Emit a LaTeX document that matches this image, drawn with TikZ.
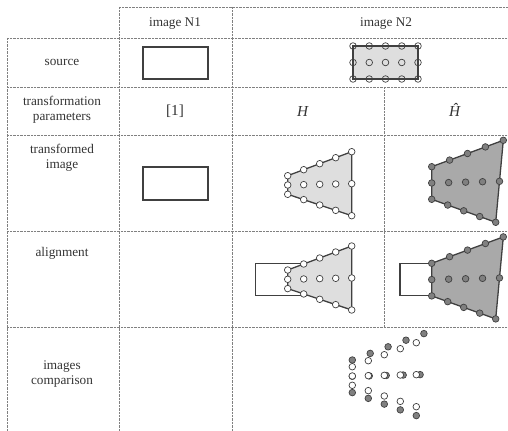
\documentclass[tikz,border=0pt]{standalone}
\usepackage{fontspec}
\setmainfont{Liberation Serif}
\usepackage{tikz}
\usepackage{xcolor}
\usetikzlibrary{positioning}

\definecolor{lightfill}{HTML}{DEDEDE}
\definecolor{darkfill}{HTML}{A9A9A9}
\definecolor{dotgrey}{HTML}{808080}
\definecolor{edge}{HTML}{404040}

\begin{document}
\begin{tikzpicture}[x=0.03cm, y=-0.03cm, font=\fontsize{11.3}{12.8}\selectfont,
    every node/.style={text=black!80},
    cellline/.style={gray, line width=0.6pt, dash pattern=on 0.6pt off 0.6pt},
    outline/.style={draw=edge, line width=1.1pt},
    wdot/.style={draw=edge, line width=0.6pt, fill=white},
    gdot/.style={draw=edge, line width=0.6pt, fill=dotgrey}]
            \useasboundingbox (0,0) rectangle (508,431);
            % table
            \draw[cellline] (119,7)--(508,7);
            \foreach \y in {38,87,135,231,327}
                \draw[cellline] (7,\y)--(508,\y);
            \draw[cellline] (7,38)--(7,431);
            \foreach \x in {119,232}
                \draw[cellline] (\x,7)--(\x,431);
            \draw[cellline] (384,87)--(384,327);
            \node (headA) at (175,24) {image N1};
            \node (headB) at (386,24) {image N2};
            \node (rowsrc) at (62,62) {source};
            \node[align=center] (rowpar) at (62,110) {transformation\\parameters};
            \node[align=center] (rowtr) at (62,158) {transformed\\image};
            \node (rowal) at (62,253) {alignment};
            \node[align=center] (rowcmp) at (62,374) {images\\comparison};
            \node[font=\fontsize{13}{15}\selectfont] (parA) at (175,111) {[1]};
            \node[font=\fontsize{13}{15}\selectfont] (parH) at (303,112) {\textit{H}};
            \node[font=\fontsize{13}{15}\selectfont] (parG) at (455,110) {\textit{Ĥ}};
            % image N1
            \draw[outline] (143,47) rectangle (208,79);
            \draw[outline] (143,167) rectangle (208,200);
            % image N2 source
            \filldraw[outline, fill=lightfill] (353,46) rectangle (418,79);
            \foreach \i in {0,...,4}
                \foreach \y in {46,62.5,79}
                    \draw[draw=edge, line width=0.6pt] ({353+16.25*\i},\y) circle[radius=3.3];
            % point grids
            \foreach \p/\ox/\oy in {t/287.7/175.7, a/287.7/270, c/352.3/366.7}
                \foreach \i in {0,...,4} {
                    \coordinate (H\p-\i-0) at ({\ox+16*\i},{\oy-6*\i});
                    \coordinate (H\p-\i-1) at ({\ox+16*\i},{\oy+9.3-0.33*\i});
                    \coordinate (H\p-\i-2) at ({\ox+16*\i},{\oy+18.6+5.35*\i});
                }
            \foreach \p/\ox/\oy in {t/431.7/166.7, a/431.7/263.3, c/352.3/360}
                \foreach \i in {0,...,4} {
                    \coordinate (G\p-\i-0) at ({\ox+17.9*\i},{\oy-6.6*\i});
                    \coordinate (G\p-\i-1) at ({\ox+16.95*\i},{\oy+16.3-0.42*\i});
                    \coordinate (G\p-\i-2) at ({\ox+16*\i},{\oy+32.6+5.75*\i});
                }
            % alignment
            \draw[outline] (255.7,263.3) rectangle (320.7,295.7);
            \draw[outline] (400,263.3) rectangle (465,295.7);
            \foreach \p in {t,a} {
                \filldraw[outline, fill=lightfill] (H\p-0-0)--(H\p-4-0)--(H\p-4-2)--(H\p-0-2)--cycle;
                \filldraw[outline, fill=darkfill] (G\p-0-0)--(G\p-4-0)--(G\p-4-2)--(G\p-0-2)--cycle;
            }
            \foreach \p in {t,a,c}
                \foreach \i in {0,...,4}
                    \foreach \j in {0,1,2}
                        \draw[gdot] (G\p-\i-\j) circle[radius=3.3];
            \foreach \p in {t,a,c}
                \foreach \i in {0,...,4}
                    \foreach \j in {0,1,2}
                        \draw[wdot] (H\p-\i-\j) circle[radius=3.3];
        \end{tikzpicture}
\end{document}
